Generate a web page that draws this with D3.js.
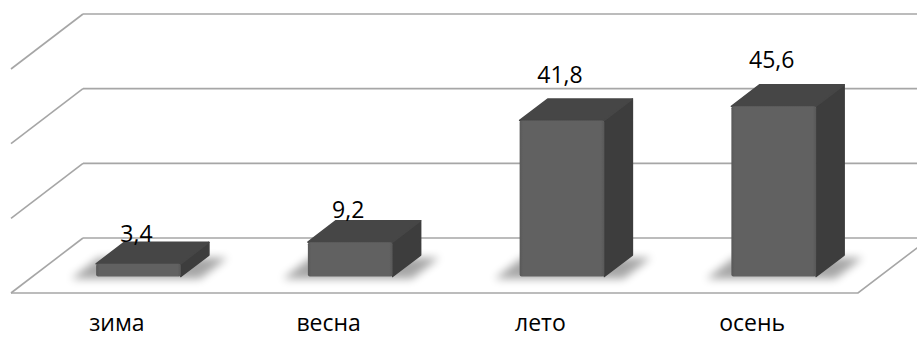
<!DOCTYPE html>
<html>
<head>
<meta charset="utf-8">
<script src="https://cdn.jsdelivr.net/npm/d3@7/dist/d3.min.js"></script>
<style>
  html, body { margin: 0; padding: 0; background: #fff; }
  svg { display: block; }
  text { font-family: "Open Sans", "Noto Sans", sans-serif; }
</style>
</head>
<body>
<svg id="chart" width="917" height="338"></svg>
<script>
// ---- data ----
const categories = ["зима", "весна", "лето", "осень"];
const values = [3.4, 9.2, 41.8, 45.6];
const valueLabels = ["3,4", "9,2", "41,8", "45,6"];
const gridTicks = [0, 20, 40, 60];

// ---- layout ----
const W = 917, H = 338;
const frontLeft = 11, frontRight = 858, floorFrontY = 293;
const depthDX = 72, depthDY = -55;          // full-depth oblique offset
const barFront = 0.30, barBack = 0.69;      // bar depth span (fraction of depth)

const svg = d3.select("#chart");

const x = d3.scaleBand().domain(categories).range([frontLeft, frontRight]).paddingInner(0).paddingOuter(0);
const h = d3.scaleLinear().domain([0, 60]).range([0, 224]);   // value -> vertical height
const barW = x.bandwidth() * 0.40;

// project (frontX, depthFraction, value) -> screen
function P(px, d, v) {
  return [px + d * depthDX, floorFrontY + d * depthDY - h(v)];
}

const defs = svg.append("defs");
defs.append("filter").attr("id", "blur").attr("x", "-50%").attr("y", "-50%").attr("width", "200%").attr("height", "200%")
  .append("feGaussianBlur").attr("stdDeviation", 4.5);

const gFront = defs.append("linearGradient").attr("id", "gfront").attr("x1", 0).attr("x2", 1).attr("y1", 0).attr("y2", 0);
gFront.append("stop").attr("offset", "0%").attr("stop-color", "#585858");
gFront.append("stop").attr("offset", "4%").attr("stop-color", "#616161");
gFront.append("stop").attr("offset", "96%").attr("stop-color", "#616161");
gFront.append("stop").attr("offset", "100%").attr("stop-color", "#585858");

const gridColor = "#a6a6a6";
const grid = svg.append("g").attr("stroke", gridColor).attr("stroke-width", 1.6).attr("fill", "none");

// back-wall gridlines and left-wall diagonals
gridTicks.forEach(t => {
  const b0 = P(frontLeft, 1, t), b1 = P(frontRight, 1, t), f0 = P(frontLeft, 0, t);
  grid.append("line").attr("x1", b0[0]).attr("y1", b0[1]).attr("x2", b1[0]).attr("y2", b1[1]);
  grid.append("line").attr("x1", f0[0]).attr("y1", f0[1]).attr("x2", b0[0]).attr("y2", b0[1]);
});
// floor front edge and right edge
{
  const a = P(frontLeft, 0, 0), b = P(frontRight, 0, 0), c = P(frontRight, 1, 0);
  grid.append("polyline").attr("points", [a, b, c].map(p => p.join(",")).join(" "));
}

// bars
const bars = svg.append("g");
categories.forEach((c, i) => {
  const v = values[i];
  const cx = x(c) + x.bandwidth() / 2;
  const L = cx - barW / 2, R = cx + barW / 2;
  const g = bars.append("g");

  // soft shadow on the floor
  const s0 = P(L - 22, barFront - 0.04, 0), s1 = P(R + 22, barFront - 0.04, 0),
        s2 = P(R + 22, barBack - 0.05, 0), s3 = P(L - 22, barBack - 0.05, 0);
  g.append("polygon").attr("points", [s0, s1, s2, s3].map(p => p.join(",")).join(" "))
    .attr("fill", "#000").attr("opacity", 0.35).attr("filter", "url(#blur)");

  const fbl = P(L, barFront, 0), fbr = P(R, barFront, 0), ftl = P(L, barFront, v), ftr = P(R, barFront, v);
  const bbr = P(R, barBack, 0), btl = P(L, barBack, v), btr = P(R, barBack, v);

  // side face
  g.append("polygon").attr("points", [fbr, ftr, btr, bbr].map(p => p.join(",")).join(" "))
    .attr("fill", "#3d3d3d").attr("stroke", "#3d3d3d").attr("stroke-width", 1.5).attr("stroke-linejoin", "round");
  // top face
  g.append("polygon").attr("points", [ftl, ftr, btr, btl].map(p => p.join(",")).join(" "))
    .attr("fill", "#464646").attr("stroke", "#464646").attr("stroke-width", 1.5).attr("stroke-linejoin", "round");
  // front face
  g.append("rect").attr("x", ftl[0]).attr("y", ftl[1]).attr("width", R - L).attr("height", fbl[1] - ftl[1])
    .attr("rx", 2).attr("fill", "url(#gfront)");

  // value label (placed above the bar top; gap grows slightly with bar height)
  svg.append("text").attr("x", cx + barFront * depthDX - 2).attr("y", ftl[1] - 20 - h(v) * 0.11)
    .attr("text-anchor", "middle").attr("font-size", 23).attr("fill", "#000").text(valueLabels[i]);
});

// category labels
svg.append("g").selectAll("text").data(categories).join("text")
  .attr("x", d => x(d) + x.bandwidth() / 2)
  .attr("y", 331)
  .attr("text-anchor", "middle").attr("font-size", 23).attr("fill", "#000")
  .text(d => d);
</script>
</body>
</html>
